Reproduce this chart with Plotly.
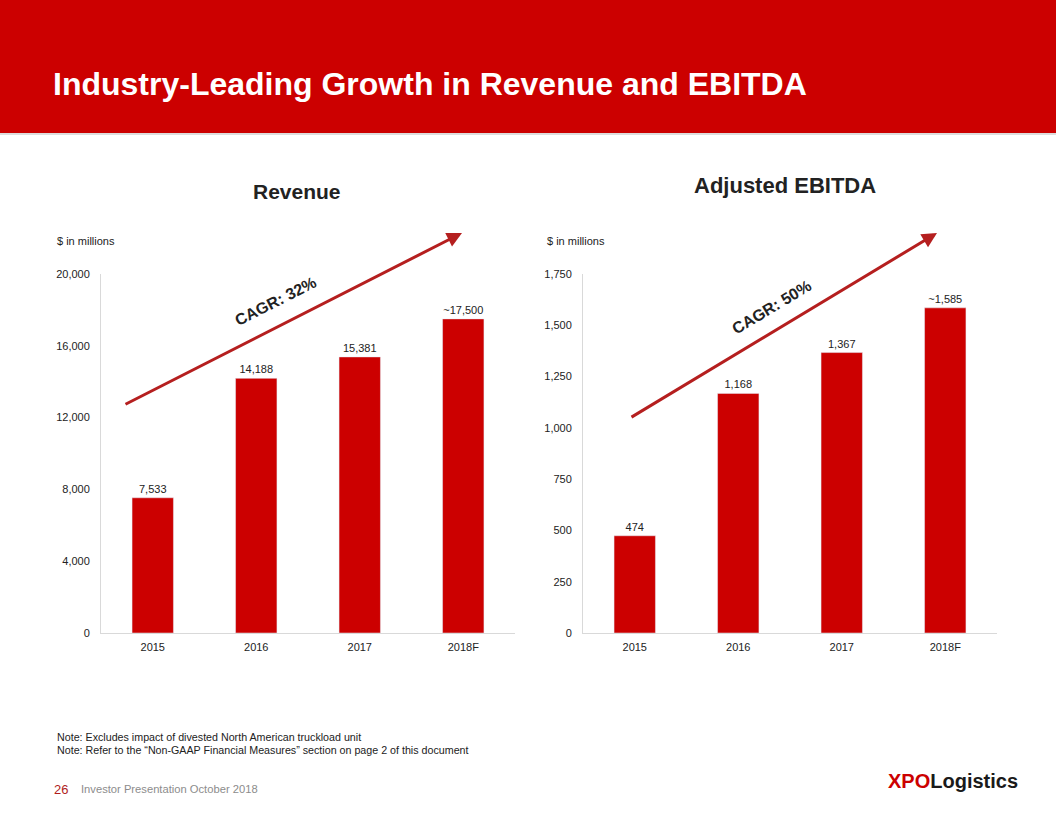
import plotly.graph_objects as go

years = ["2015", "2016", "2017", "2018F"]
revenue = [7533, 14188, 15381, 17500]
revenue_labels = ["7,533", "14,188", "15,381", "~17,500"]
ebitda = [474, 1168, 1367, 1585]
ebitda_labels = ["474", "1,168", "1,367", "~1,585"]
rev_ticks = [0, 4000, 8000, 12000, 16000, 20000]
ebitda_ticks = [0, 250, 500, 750, 1000, 1250, 1500, 1750]

W, H = 1056, 816
RED = "#CC0000"
ARROW = "#B51F1F"
FONT = "Liberation Sans, Arial, sans-serif"

def px(x):
    return x / W

def py(y):
    return 1 - y / H

fig = go.Figure()
fig.add_trace(go.Bar(x=years, y=revenue, text=revenue_labels, textposition="outside",
                     marker_color=RED, textfont=dict(size=11, color="#222"),
                     cliponaxis=False, xaxis="x", yaxis="y", hoverinfo="skip"))
fig.add_trace(go.Bar(x=years, y=ebitda, text=ebitda_labels, textposition="outside",
                     marker_color=RED, textfont=dict(size=11, color="#222"),
                     cliponaxis=False, xaxis="x2", yaxis="y2", hoverinfo="skip"))

axis_common = dict(showgrid=False, zeroline=False, showline=True, linecolor="#D9D9D9",
                   linewidth=1, ticks="", tickfont=dict(size=11, color="#222", family=FONT))

fig.update_layout(
    width=W, height=H, margin=dict(l=0, r=0, t=0, b=0, autoexpand=False),
    paper_bgcolor="white", plot_bgcolor="white", showlegend=False,
    bargap=0.6, font=dict(family=FONT, color="#222"),
    xaxis=dict(domain=[px(101), px(515)], type="category", anchor="y", ticklabelstandoff=4, **axis_common),
    yaxis=dict(domain=[py(633), py(274)], range=[0, 20000], tickvals=rev_ticks,
               tickformat=",d", anchor="x", ticklabelstandoff=8, **axis_common),
    xaxis2=dict(domain=[px(583), px(997)], type="category", anchor="y2", ticklabelstandoff=4, **axis_common),
    yaxis2=dict(domain=[py(633), py(274)], range=[0, 1750], tickvals=ebitda_ticks,
                tickformat=",d", anchor="x2", ticklabelstandoff=8, **axis_common),
)

# header band
fig.add_shape(type="rect", xref="paper", yref="paper", x0=-0.01, x1=1.01, y0=py(133), y1=1.02,
              fillcolor=RED, line_width=0, layer="below")
fig.add_shape(type="line", xref="paper", yref="paper", x0=0, x1=1, y0=py(134), y1=py(134),
              line=dict(color="#BBBBBB", width=1), layer="below")

ann = []
ann.append(dict(text="<b>Industry-Leading Growth in Revenue and EBITDA</b>", x=px(51), y=py(84),
                xanchor="left", yanchor="middle", showarrow=False,
                font=dict(size=32, color="white", family=FONT)))
ann.append(dict(text="<b>Revenue</b>", x=px(297), y=py(191), xanchor="center", yanchor="middle",
                showarrow=False, font=dict(size=21, color="#222")))
ann.append(dict(text="<b>Adjusted EBITDA</b>", x=px(785), y=py(186), xanchor="center", yanchor="middle",
                showarrow=False, font=dict(size=22, color="#222")))
for x0 in (55, 545):
    ann.append(dict(text="$ in millions", x=px(x0), y=py(241), xanchor="left", yanchor="middle",
                    showarrow=False, font=dict(size=11, color="#222")))
# arrows
ann.append(dict(text="", x=px(462), y=py(233), ax=124 - 462, ay=405 - 233,
                showarrow=True, arrowhead=2, arrowsize=1, arrowwidth=3, arrowcolor=ARROW))
ann.append(dict(text="", x=px(937), y=py(233), ax=630 - 937, ay=418 - 233,
                showarrow=True, arrowhead=2, arrowsize=1, arrowwidth=3, arrowcolor=ARROW))
ann.append(dict(text="<b>CAGR: 32%</b>", x=px(275), y=py(301), textangle=-27, showarrow=False,
                xanchor="center", yanchor="middle", font=dict(size=16, color="#222")))
ann.append(dict(text="<b>CAGR: 50%</b>", x=px(771), y=py(307), textangle=-31, showarrow=False,
                xanchor="center", yanchor="middle", font=dict(size=16, color="#222")))
# notes
ann.append(dict(text="Note: Excludes impact of divested North American truckload unit", x=px(55), y=py(737),
                xanchor="left", yanchor="middle", showarrow=False, font=dict(size=10.7, color="#222")))
ann.append(dict(text="Note: Refer to the \u201cNon-GAAP Financial Measures\u201d section on page 2 of this document",
                x=px(55), y=py(750), xanchor="left", yanchor="middle", showarrow=False,
                font=dict(size=10.7, color="#222")))
ann.append(dict(text="26", x=px(52), y=py(789), xanchor="left", yanchor="middle", showarrow=False,
                font=dict(size=13, color="#B01C1C", family=FONT)))
ann.append(dict(text="Investor Presentation October 2018", x=px(79), y=py(789), xanchor="left",
                yanchor="middle", showarrow=False, font=dict(size=11.2, color="#8C8C8C", family=FONT)))
ann.append(dict(text="<b><span style='color:#CC0000'>XPO</span>Logistics</b>", x=px(1020), y=py(781),
                xanchor="right", yanchor="middle", showarrow=False,
                font=dict(size=20, color="#1a1a1a", family=FONT)))
for a in ann:
    a.setdefault("xref", "paper")
    a.setdefault("yref", "paper")
fig.update_layout(annotations=ann)

fig.write_html("out.html")
